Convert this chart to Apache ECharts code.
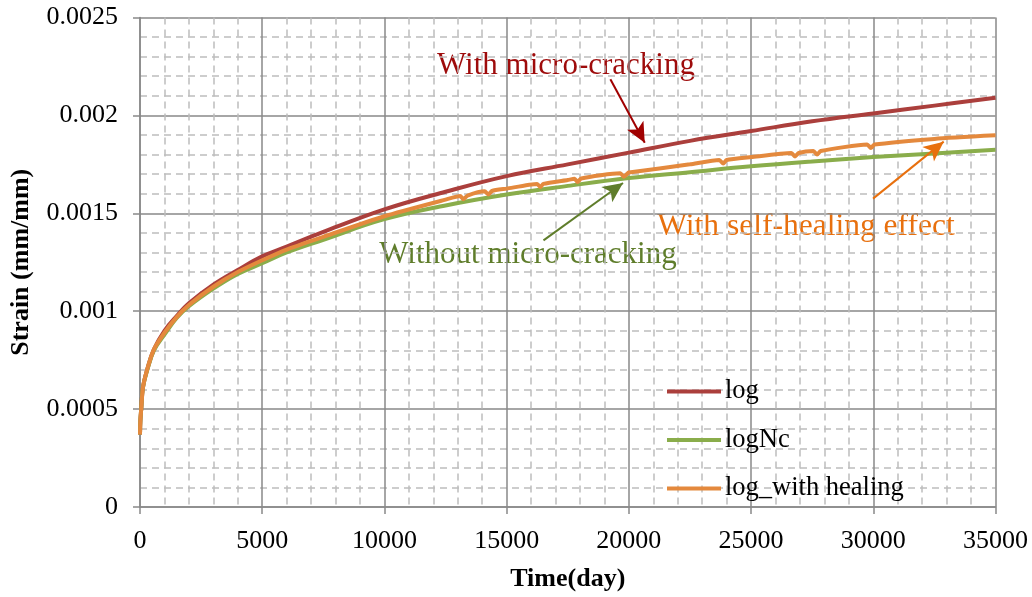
<!DOCTYPE html>
<html>
<head>
<meta charset="utf-8">
<script src="https://cdn.jsdelivr.net/npm/echarts@6/dist/echarts.min.js"></script>
<style>html,body{margin:0;padding:0;background:#fff}#c{width:1032px;height:597px}</style>
</head>
<body>
<div id="c"></div>
<script>
// ---- data ----
var timeDays = [0, 15, 50, 120, 300, 570, 1000, 1500, 2000, 3000, 4000, 5000, 6000, 7500, 10000, 12500, 15000, 17500, 20000, 22500, 25000, 27500, 30000, 32500, 35000];
var logVals = [0.00037, 0.00044, 0.0005, 0.00061, 0.000705, 0.000805, 0.0009, 0.000975, 0.00104, 0.001135, 0.00121, 0.00128, 0.00133, 0.001405, 0.00152, 0.00161, 0.00169, 0.00175, 0.00181, 0.00187, 0.00192, 0.00197, 0.00201, 0.00205, 0.00209];
var logNcVals = [0.00037, 0.00044, 0.0005, 0.00061, 0.0007, 0.0008, 0.00088, 0.000965, 0.001025, 0.001115, 0.00119, 0.001245, 0.0013, 0.001365, 0.00147, 0.00154, 0.001596, 0.00164, 0.00168, 0.00171, 0.00174, 0.001765, 0.001787, 0.001806, 0.001824];
var healTime = [0, 15, 50, 120, 300, 570, 1000, 1500, 2000, 3000, 4000, 5000, 6000, 7500, 10000, 12500, 13100, 13230, 13400, 14100, 14260, 14400, 15000, 16250, 16380, 16500, 17500, 17780, 17900, 18050, 19650, 19800, 19950, 20000, 22500, 23700, 23860, 24000, 25000, 26650, 26800, 26950, 27550, 27700, 27850, 29750, 29900, 30050, 32500, 35000];
var healVals = [0.00037, 0.00044, 0.0005, 0.00061, 0.000705, 0.000805, 0.00089, 0.00097, 0.001032, 0.001125, 0.0012, 0.00126, 0.001315, 0.00138, 0.001485, 0.00157, 0.001588, 0.001572, 0.00159, 0.001612, 0.001596, 0.001614, 0.001626, 0.00165, 0.001634, 0.00165, 0.00167, 0.001676, 0.00166, 0.001678, 0.001704, 0.001687, 0.001704, 0.001708, 0.00175, 0.001772, 0.001754, 0.001772, 0.001787, 0.001808, 0.00179, 0.001808, 0.001818, 0.0018, 0.001818, 0.001851, 0.001834, 0.001851, 0.00188, 0.001898];
var xTicks = [0, 5000, 10000, 15000, 20000, 25000, 30000, 35000];
var yTicks = ['0', '0.0005', '0.001', '0.0015', '0.002', '0.0025'];
var seriesNames = ['log', 'logNc', 'log_with healing'];
var notes = ['With micro-cracking', 'Without micro-cracking', 'With self-healing effect'];

function pairs(xs, ys) { return xs.map(function (x, i) { return [x, ys[i]]; }); }

var FONT = '"Liberation Serif", "Times New Roman", serif';
var chart = echarts.init(document.getElementById('c'), null, { renderer: 'canvas' });

function arrow(from, to, color, w) {
  return {
    silent: true, animation: false, symbol: ['none', 'arrow'], symbolSize: [14, 20],
    label: { show: false },
    lineStyle: { color: color, width: w, type: 'solid' },
    emphasis: { disabled: true },
    data: [[{ coord: from, symbol: 'none' }, { coord: to, symbol: 'arrow' }]]
  };
}

chart.setOption({
  animation: false,
  backgroundColor: '#fff',
  grid: { left: 139.5, top: 17.5, right: 36.5, bottom: 87, containLabel: false },
  xAxis: {
    type: 'value', min: 0, max: 35000, interval: 5000,
    name: 'Time(day)', nameLocation: 'middle', nameGap: 59,
    nameTextStyle: { fontFamily: FONT, fontSize: 26, fontWeight: 'bold', color: '#000' },
    axisLine: { show: true, lineStyle: { color: '#898989', width: 1.5 } },
    axisTick: { show: true, length: 7, lineStyle: { color: '#898989', width: 1.5 } },
    axisLabel: { margin: 21, fontFamily: FONT, fontSize: 26, color: '#000',
      formatter: function (v) { return xTicks.indexOf(v) >= 0 ? String(v) : ''; } },
    splitLine: { show: true, lineStyle: { color: '#898989', width: 1.5 } },
    minorTick: { show: false, splitNumber: 5 },
    minorSplitLine: { show: true, lineStyle: { color: '#bdbdbd', width: 1.5, type: [7, 5] } }
  },
  yAxis: {
    type: 'value', min: 0, max: 0.0025, interval: 0.0005,
    name: 'Strain (mm/mm)', nameLocation: 'middle', nameGap: 106, nameRotate: 90,
    nameTextStyle: { fontFamily: FONT, fontSize: 26, fontWeight: 'bold', color: '#000' },
    axisLine: { show: true, lineStyle: { color: '#898989', width: 1.5 } },
    axisTick: { show: true, length: 7, lineStyle: { color: '#898989', width: 1.5 } },
    axisLabel: { margin: 22, fontFamily: FONT, fontSize: 26, color: '#000',
      formatter: function (v) { var i = Math.round(v / 0.0005); return yTicks[i] !== undefined ? yTicks[i] : ''; } },
    splitLine: { show: true, lineStyle: { color: '#898989', width: 1.5 } },
    minorTick: { show: false, splitNumber: 5 },
    minorSplitLine: { show: true, lineStyle: { color: '#bdbdbd', width: 1.5, type: [7, 5] } }
  },
  legend: {
    orient: 'vertical', left: 667, top: 378, padding: 0, itemWidth: 54, itemHeight: 4, itemGap: 21.5,
    icon: 'rect', selectedMode: false,
    textStyle: { fontFamily: FONT, fontSize: 26.5, color: '#000', lineHeight: 26, padding: [0, 0, 0, -1] },
    data: seriesNames
  },
  series: [
    { name: seriesNames[0], type: 'line', data: pairs(timeDays, logVals), showSymbol: false, smooth: 0.4,
      color: '#ab3f3c', lineStyle: { width: 4, color: '#ab3f3c' }, z: 2,
      markLine: arrow([19244, 0.002185], [20650, 0.00186], '#a00000', 2) },
    { name: seriesNames[1], type: 'line', data: pairs(timeDays, logNcVals), showSymbol: false, smooth: 0.4,
      color: '#8aad4b', lineStyle: { width: 4, color: '#8aad4b' }, z: 3,
      markLine: arrow([16507, 0.001362], [19760, 0.001655], '#5f7d2b', 2) },
    { name: seriesNames[2], type: 'line', data: pairs(healTime, healVals), showSymbol: false, smooth: 0.2,
      color: '#e4893d', lineStyle: { width: 4, color: '#e4893d' }, z: 4,
      markLine: arrow([29990, 0.001575], [32880, 0.001866], '#e8700e', 2) }
  ],
  graphic: [
    { type: 'text', silent: true, style: { text: notes[0], x: 566, y: 66, textAlign: 'center', textVerticalAlign: 'middle', font: '31px ' + FONT, fill: '#9e0b0b' } },
    { type: 'text', silent: true, style: { text: notes[1], x: 528, y: 255, textAlign: 'center', textVerticalAlign: 'middle', font: '31px ' + FONT, fill: '#5f7d2b' } },
    { type: 'text', silent: true, style: { text: notes[2], x: 806, y: 227, textAlign: 'center', textVerticalAlign: 'middle', font: '31.5px ' + FONT, fill: '#e8700e' } }
  ]
});
</script>
</body>
</html>
